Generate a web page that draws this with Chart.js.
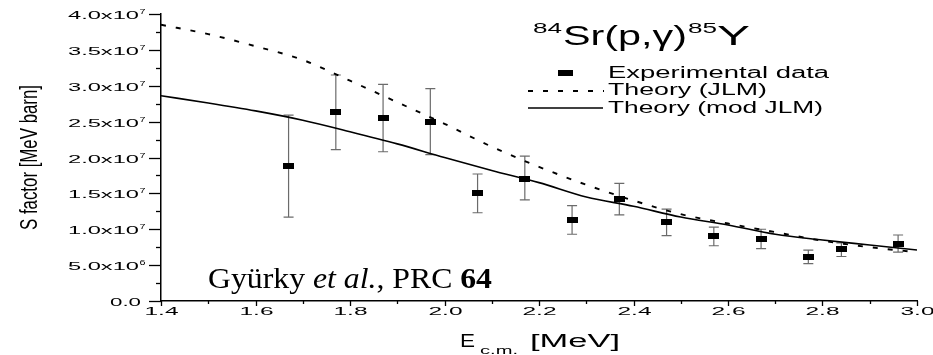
<!DOCTYPE html>
<html>
<head>
<meta charset="utf-8">
<script src="https://cdn.jsdelivr.net/npm/chart.js@4"></script>
<style>
  html,body{margin:0;padding:0;background:#fff;}
  #wrap{width:933px;height:355px;}
</style>
</head>
<body>
<div id="wrap"><canvas id="c" width="933" height="355"></canvas></div>
<script>
// 84Sr(p,g)85Y S factor: data + two theory curves
const energies = [1.67, 1.77, 1.87, 1.97, 2.07, 2.17, 2.27, 2.37, 2.47, 2.57, 2.67, 2.77, 2.84, 2.96];
const sExp     = [1.88e7, 2.64e7, 2.55e7, 2.50e7, 1.50e7, 1.70e7, 1.13e7, 1.42e7, 1.10e7, 0.90e7, 0.87e7, 0.62e7, 0.72e7, 0.79e7];
const errHigh  = [2.59e7, 3.15e7, 3.02e7, 2.96e7, 1.77e7, 2.02e7, 1.33e7, 1.64e7, 1.28e7, 1.03e7, 1.00e7, 0.71e7, 0.81e7, 0.92e7];
const errLow   = [1.17e7, 2.11e7, 2.08e7, 2.04e7, 1.23e7, 1.41e7, 0.93e7, 1.20e7, 0.91e7, 0.77e7, 0.73e7, 0.52e7, 0.62e7, 0.68e7];

const theoryE = [1.4, 1.5, 1.6, 1.7, 1.8, 1.9, 2.0, 2.1, 2.2, 2.3, 2.4, 2.5, 2.6, 2.7, 2.8, 2.9, 3.0];
const jlm     = [3.85e7, 3.72e7, 3.55e7, 3.36e7, 3.07e7, 2.77e7, 2.47e7, 2.15e7, 1.87e7, 1.62e7, 1.40e7, 1.21e7, 1.08e7, 0.96e7, 0.84e7, 0.75e7, 0.68e7];
const modJlm  = [2.86e7, 2.76e7, 2.65e7, 2.52e7, 2.36e7, 2.19e7, 2.00e7, 1.82e7, 1.65e7, 1.45e7, 1.32e7, 1.17e7, 1.06e7, 0.93e7, 0.85e7, 0.78e7, 0.71e7];

const xMin = 1.4, xMax = 3.0, xStep = 0.1;
const yMin = 0, yMax = 4.0e7, yStep = 2.5e6;

const SANS = '"Liberation Sans", Arial, sans-serif';
const SERIF = '"Liberation Serif", "Times New Roman", serif';

// flat black box marker
const mk = document.createElement('canvas');
mk.width = 11; mk.height = 6;
const mctx = mk.getContext('2d'); mctx.fillStyle = '#000'; mctx.fillRect(0, 0, 11, 6);

// draw text horizontally stretched (the original figure is wide-stretched)
function sText(ctx, txt, x, y, font, sx, align){
  ctx.save();
  ctx.font = font;
  const w = ctx.measureText(txt).width;
  ctx.translate(x, y);
  ctx.scale(sx, 1);
  ctx.textAlign = 'left';
  ctx.textBaseline = 'alphabetic';
  let ox = 0;
  if(align === 'right') ox = -w; else if(align === 'center') ox = -w/2;
  ctx.fillText(txt, ox, 0);
  ctx.restore();
  return w * sx;
}
function fitText(ctx, txt, x, y, font, width, align){
  ctx.font = font;
  const w = ctx.measureText(txt).width;
  return sText(ctx, txt, x, y, font, width / w, align || 'left');
}

const errorBars = {
  id: 'errorBars',
  beforeDatasetsDraw(chart){
    const {ctx, scales:{x, y}} = chart;
    ctx.save();
    ctx.strokeStyle = '#6b6b6b';
    ctx.lineWidth = 1.2;
    energies.forEach((e, i) => {
      const px = x.getPixelForValue(e);
      const t = y.getPixelForValue(errHigh[i]);
      const b = y.getPixelForValue(errLow[i]);
      ctx.beginPath();
      ctx.moveTo(px, t); ctx.lineTo(px, b);
      ctx.moveTo(px - 5, t); ctx.lineTo(px + 5, t);
      ctx.moveTo(px - 5, b); ctx.lineTo(px + 5, b);
      ctx.stroke();
    });
    ctx.restore();
  }
};

const decorations = {
  id: 'decorations',
  afterDraw(chart){
    const {ctx, scales:{x, y}, chartArea:a} = chart;
    ctx.save();
    ctx.fillStyle = '#000';
    ctx.strokeStyle = '#000';
    ctx.lineWidth = 1.3;

    // y ticks + labels
    y.ticks.forEach(t => {
      const py = Math.round(y.getPixelForValue(t.value)) + 0.5;
      const major = Math.round(t.value / yStep) % 2 === 0;
      ctx.beginPath();
      ctx.moveTo(a.left - (major ? 12 : 5), py); ctx.lineTo(a.left, py);
      ctx.stroke();
      if(!major) return;
      if(t.value === 0){
        fitText(ctx, '0.0', 141, py + 4, '11px ' + SANS, 31, 'right');
      } else {
        const ex = Math.floor(Math.log10(t.value) + 1e-9);
        const man = (t.value / Math.pow(10, ex)).toFixed(1);
        fitText(ctx, man + 'x10', 139, py + 4, '11px ' + SANS, 71, 'right');
        fitText(ctx, String(ex), 139.5, py - 1, '8px ' + SANS, 6, 'left');
      }
    });

    // x ticks + labels
    x.ticks.forEach(t => {
      const px = Math.round(x.getPixelForValue(t.value)) + 0.5;
      const major = Math.round(t.value / xStep) % 2 === 0;
      ctx.beginPath();
      ctx.moveTo(px, a.bottom); ctx.lineTo(px, a.bottom + (major ? 5 : 3));
      ctx.stroke();
      if(major) fitText(ctx, t.value.toFixed(1), px, 315, '11px ' + SANS, 34, 'center');
    });

    // axis titles
    ctx.save();
    ctx.font = '15px ' + SANS;
    const yt = 'S factor [MeV barn]';
    const yw = ctx.measureText(yt).width;
    ctx.translate(37, 157.5);
    ctx.rotate(-Math.PI / 2);
    ctx.scale(145 / yw, 1.55);
    ctx.textAlign = 'center';
    ctx.fillText(yt, 0, 0);
    ctx.restore();

    fitText(ctx, 'E', 460, 347, '18px ' + SANS, 15);
    fitText(ctx, 'c.m.', 480, 354, '11px ' + SANS, 38);
    fitText(ctx, '[MeV]', 530, 347, '18px ' + SANS, 90);

    // reaction title
    fitText(ctx, '84', 533, 33, '14px ' + SANS, 29);
    fitText(ctx, 'Sr(p,\u03b3)', 563, 45, '28px ' + SANS, 124);
    fitText(ctx, '85', 688, 33, '14px ' + SANS, 29);
    fitText(ctx, 'Y', 717, 45, '28px ' + SANS, 33);

    // legend
    ctx.fillRect(558, 70, 15, 6);
    ctx.lineWidth = 1.8;
    ctx.setLineDash([5, 10]);
    ctx.beginPath(); ctx.moveTo(528, 91); ctx.lineTo(604, 91); ctx.stroke();
    ctx.setLineDash([]);
    ctx.lineWidth = 1.6;
    ctx.beginPath(); ctx.moveTo(528, 108); ctx.lineTo(603, 108); ctx.stroke();
    fitText(ctx, 'Experimental data', 608, 78, '16px ' + SANS, 221);
    fitText(ctx, 'Theory (JLM)', 608, 95, '16px ' + SANS, 159);
    fitText(ctx, 'Theory (mod JLM)', 608, 112.5, '16px ' + SANS, 215);

    // citation
    const parts = [
      ['Gy\u00fcrky ', '30px ' + SERIF],
      ['et al.', 'italic 30px ' + SERIF],
      [', PRC ', '30px ' + SERIF],
      ['64', 'bold 30px ' + SERIF]
    ];
    let total = 0;
    parts.forEach(p => { ctx.font = p[1]; total += ctx.measureText(p[0]).width; });
    const k = 284 / total;
    let cx = 208;
    parts.forEach(p => { cx += sText(ctx, p[0], cx, 288, p[1], k, 'left'); });

    ctx.restore();
  }
};

new Chart(document.getElementById('c'), {
  type: 'scatter',
  data: {
    datasets: [
      {
        label: 'Experimental data',
        data: energies.map((e, i) => ({x: e, y: sExp[i]})),
        pointStyle: mk,
        pointRadius: 5,
        showLine: false
      },
      {
        label: 'Theory (JLM)',
        data: theoryE.map((e, i) => ({x: e, y: jlm[i]})),
        showLine: true,
        borderColor: '#000',
        borderWidth: 1.9,
        borderDash: [5, 10],
        pointRadius: 0,
        cubicInterpolationMode: 'monotone'
      },
      {
        label: 'Theory (mod JLM)',
        data: theoryE.map((e, i) => ({x: e, y: modJlm[i]})),
        showLine: true,
        borderColor: '#000',
        borderWidth: 1.6,
        pointRadius: 0,
        cubicInterpolationMode: 'monotone'
      }
    ]
  },
  options: {
    responsive: false,
    animation: false,
    devicePixelRatio: 1,
    layout: { padding: { left: 0, right: 16, top: 14, bottom: 0 } },
    plugins: { legend: { display: false }, tooltip: { enabled: false } },
    scales: {
      x: {
        type: 'linear', min: xMin, max: xMax,
        ticks: { display: false, stepSize: xStep },
        grid: { display: false },
        border: { display: true, color: '#000', width: 1.5 },
        afterFit(s){ s.height = 54; }
      },
      y: {
        type: 'linear', min: yMin, max: yMax,
        ticks: { display: false, stepSize: yStep },
        grid: { display: false },
        border: { display: true, color: '#000', width: 1.5 },
        afterFit(s){ s.width = 161; }
      }
    }
  },
  plugins: [errorBars, decorations]
});
</script>
</body>
</html>
